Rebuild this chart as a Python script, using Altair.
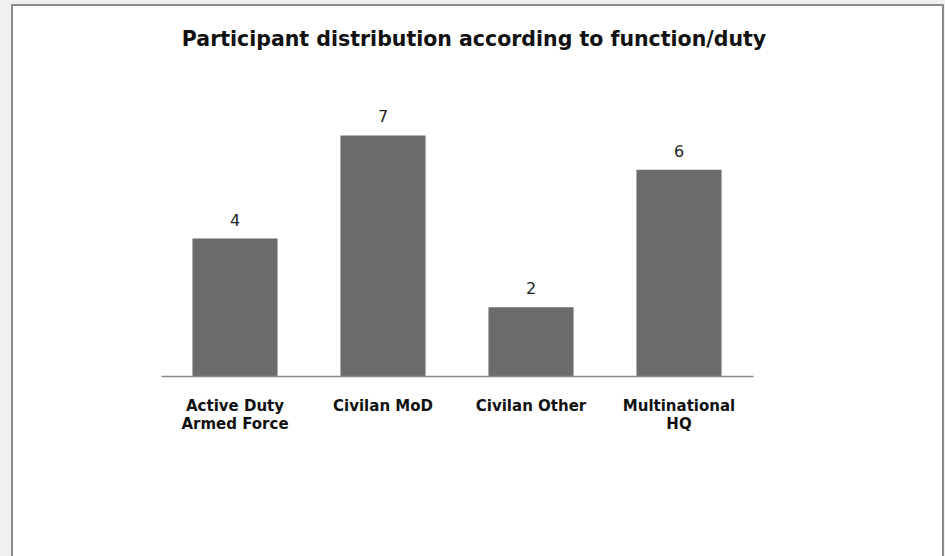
import altair as alt
import pandas as pd

# Participants per function/duty
categories = ["Active Duty\nArmed Force", "Civilan MoD", "Civilan Other", "Multinational\nHQ"]
counts = [4, 7, 2, 6]
title_text = "Participant distribution according to function/duty"

df = pd.DataFrame({"category": categories, "count": counts})

FONT = "DejaVu Sans"

x_enc = alt.X(
    "category:N",
    sort=categories,
    scale=alt.Scale(paddingInner=0.425, paddingOuter=0.2125),
    axis=alt.Axis(
        title=None,
        labelExpr="split(datum.label, '\\n')",
        labelAngle=0,
        labelFont=FONT,
        labelFontSize=15,
        labelFontWeight="bold",
        labelColor="#111111",
        labelPadding=22,
        labelLineHeight=18,
        labelBaseline="top",
        ticks=False,
        domainColor="#8a8a8a",
        domainWidth=1.5,
        grid=False,
        zindex=1,
    ),
)
y_enc = alt.Y("count:Q", scale=alt.Scale(domain=[0, 8]), axis=None)

# white sheet with grey border behind the chart
frame = alt.Chart(df.head(1)).mark_rect(
    fill="white", stroke="#8c8c8c", strokeWidth=2
).encode(
    x=alt.value(-149), x2=alt.value(782), y=alt.value(-96), y2=alt.value(470)
)

# chart heading, centred on the sheet
heading = alt.Chart(pd.DataFrame({"t": [title_text]})).mark_text(
    font=FONT, fontSize=20.5, fontWeight="bold", color="#111111",
    align="center", baseline="alphabetic",
).encode(x=alt.value(313), y=alt.value(-55), text="t:N")

bars = alt.Chart(df).mark_bar(color="#6b6b6b").encode(x=x_enc, y=y_enc)

labels = alt.Chart(df).mark_text(
    dy=-13, font=FONT, fontSize=16, color="#222222", baseline="alphabetic"
).encode(x=alt.X("category:N", sort=categories), y=y_enc, text="count:Q")

chart = (
    alt.layer(frame, heading, bars, labels)
    .properties(
        width=592,
        height=275,
        autosize=alt.AutoSizeParams(type="none"),
        padding={"left": 161, "top": 101, "right": 192, "bottom": 180},
        background="#f0f0f0",
    )
    .configure_view(stroke=None)
)

chart.save("out.html", embed_options={"renderer": "svg", "actions": False})
